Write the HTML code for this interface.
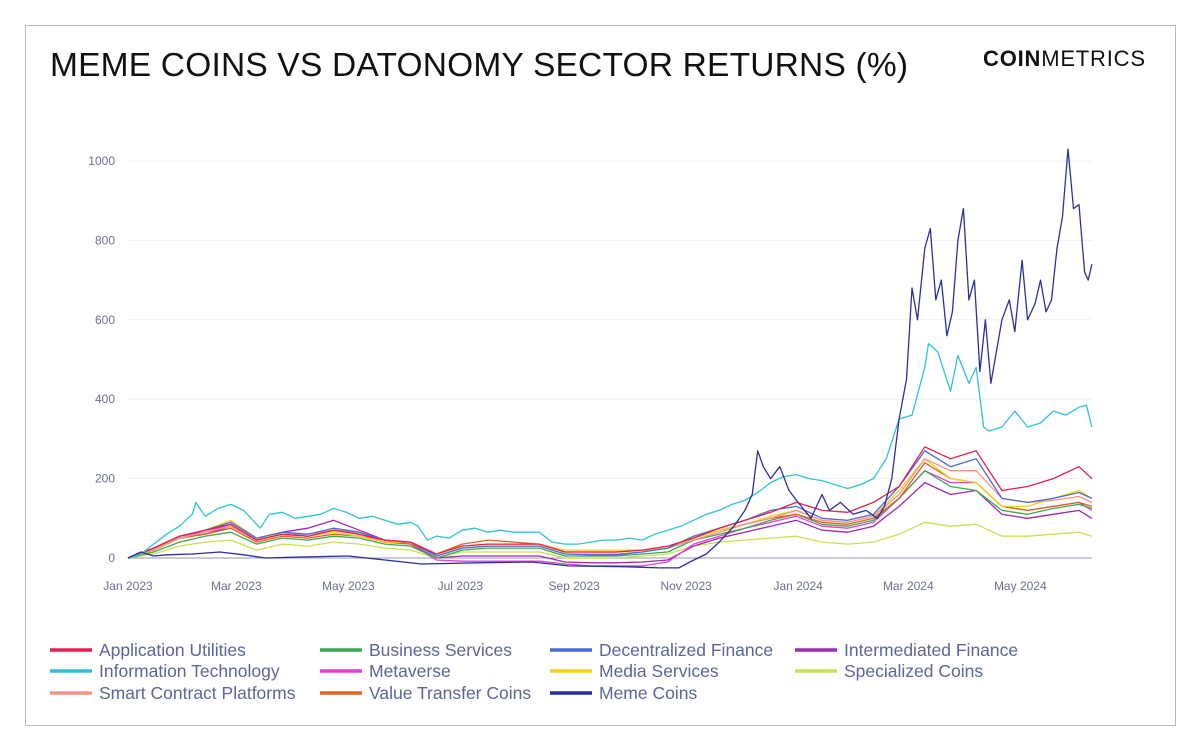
<!DOCTYPE html>
<html><head><meta charset="utf-8">
<style>
body{margin:0;background:#fff;width:1200px;height:750px;overflow:hidden;font-family:"Liberation Sans",sans-serif}
#frame{position:absolute;left:25px;top:25px;width:1149px;height:699px;border:1px solid #b8b8c0}
#title{position:absolute;left:50px;top:47px;font-size:33.5px;color:#111;letter-spacing:0.2px}
#logo{position:absolute;left:983px;top:46px;font-size:22px;color:#111;letter-spacing:0.8px}
svg{position:absolute;left:0;top:0}
</style></head><body>
<div id="frame"></div>
<div id="title">MEME COINS VS DATONOMY SECTOR RETURNS (%)</div>
<div id="logo"><b>COIN</b>METRICS</div>
<svg id="chart" width="1200" height="750"></svg>
<script>
const yTicks=[0,200,400,600,800,1000];
const xTickLabels=["Jan 2023","Mar 2023","May 2023","Jul 2023","Sep 2023","Nov 2023","Jan 2024","Mar 2024","May 2024"];
const xTickDays=[0,59,120,181,243,304,365,425,486];
const gridDays=[0,14,28,42,56,70,84,98,112,126,140,154,168,182,196,210,224,238,252,266,280,294,308,322,336,350,364,378,392,406,420,434,448,462,476,490,504,518,525];
const appUtil=[0,25,55,70,85,45,60,55,70,60,45,40,10,30,35,35,35,15,15,15,20,30,50,75,95,115,140,120,115,140,180,280,250,270,170,180,200,230,200];
const business=[0,15,40,55,65,35,50,45,55,50,35,30,0,20,25,25,25,5,5,5,10,15,45,60,75,95,110,85,80,95,150,220,180,170,120,110,125,135,125];
const defi=[0,25,55,70,90,50,65,60,75,65,45,40,5,25,30,30,30,10,8,8,15,25,55,75,95,120,130,100,95,110,180,270,230,250,150,140,150,165,150];
const intermed=[0,20,50,60,80,45,65,75,95,70,45,35,0,5,5,5,5,-10,-12,-12,-10,-5,30,50,65,80,95,70,65,80,130,190,160,170,110,100,110,120,100];
const metaverse=[0,25,55,65,85,45,60,55,70,60,40,35,-5,-8,-8,-8,-8,-15,-20,-20,-20,-10,35,55,75,90,105,80,75,90,150,220,190,190,130,120,130,140,120];
const media=[0,20,55,70,95,50,60,55,65,55,40,40,10,30,35,35,35,20,20,20,20,25,50,70,85,105,120,95,90,105,170,250,200,190,130,130,150,170,150];
const specialized=[0,10,30,40,45,20,35,30,40,35,25,20,0,15,15,15,15,0,0,0,5,10,30,40,45,50,55,40,35,40,60,90,80,85,55,55,60,65,55];
const smartContract=[0,20,50,65,80,45,60,60,70,65,45,40,5,25,30,30,30,10,10,10,15,25,45,65,85,100,120,95,90,105,160,250,220,220,150,140,145,155,140];
const valueTransfer=[0,20,50,60,75,40,55,50,60,55,40,35,10,35,45,40,35,15,15,15,20,25,50,70,85,100,110,90,85,100,150,240,200,190,130,120,130,140,130];
const itDays=[0,7,14,21,28,35,37,42,49,56,63,72,77,84,91,98,105,112,119,126,133,140,147,154,158,163,168,175,182,189,196,203,210,217,224,231,238,245,252,259,266,273,280,287,294,301,308,315,322,329,336,343,350,357,364,371,378,385,392,399,406,413,420,427,434,436,441,448,452,458,462,466,469,476,483,490,497,504,511,518,522,525];
const itVals=[0,10,35,60,80,110,140,105,125,135,120,75,110,115,100,105,110,125,115,100,105,95,85,90,80,45,55,50,70,75,65,70,65,65,65,40,35,35,40,45,45,50,45,60,70,80,95,110,120,135,145,165,190,205,210,200,195,185,175,185,200,250,350,360,480,540,520,420,510,440,480,330,320,330,370,330,340,370,360,380,385,330];
const memeDays=[0,7,14,21,35,50,63,75,90,120,140,160,190,220,240,270,290,300,306,315,322,330,336,340,343,346,350,355,360,365,372,378,382,388,395,402,408,412,416,420,424,427,430,434,437,440,443,446,449,452,455,458,461,464,467,470,473,476,480,483,487,490,494,497,500,503,506,509,512,515,518,521,523,525];
const memeVals=[0,15,5,8,10,15,8,0,2,5,-5,-15,-12,-10,-20,-22,-25,-25,-10,10,40,80,120,160,270,230,200,230,170,140,100,160,120,140,110,120,100,130,200,350,450,680,600,780,830,650,700,560,620,800,880,650,700,470,600,440,520,600,650,570,750,600,640,700,620,650,780,860,1030,880,890,720,700,740];
const seriesNames=["Application Utilities","Business Services","Decentralized Finance","Intermediated Finance","Information Technology","Metaverse","Media Services","Specialized Coins","Smart Contract Platforms","Value Transfer Coins","Meme Coins"];
const colors=["#e3204f","#3fa852","#4a6bd8","#9c2bb0","#2ec4d4","#e43fd8","#f2d21a","#c6e24e","#f49488","#e0621f","#2f2f9c"];
const NS="http://www.w3.org/2000/svg";
const svg=document.getElementById('chart');
const x0=128,pxPerDay=1.836,y0=558,pxPerUnit=0.397;
const xs=d=>x0+d*pxPerDay, ys=v=>y0-v*pxPerUnit;
function el(t,a){const e=document.createElementNS(NS,t);for(const k in a)e.setAttribute(k,a[k]);svg.appendChild(e);return e;}
yTicks.forEach(v=>{
 if(v>0){const g=el('line',{x1:x0,x2:1092,y1:ys(v),y2:ys(v),stroke:'#f0f0f3'});
 
 }
 const t=el('text',{x:115,y:ys(v)+4,'text-anchor':'end','font-size':12,fill:'#6a7090'});t.textContent=v;
 
 
});
xTickLabels.forEach((l,i)=>{
 const t=el('text',{x:xs(xTickDays[i]),y:590,'text-anchor':'middle','font-size':12,fill:'#6a7090'});t.textContent=l;
 
 
});
const ax=el('line',{x1:x0,x2:1092,y1:y0,y2:y0,stroke:'#a8acc0','stroke-width':1.2});


const all=[[gridDays,appUtil],[gridDays,business],[gridDays,defi],[gridDays,intermed],[itDays,itVals],[gridDays,metaverse],[gridDays,media],[gridDays,specialized],[gridDays,smartContract],[gridDays,valueTransfer],[memeDays,memeVals]];
const order=[7,3,5,1,9,6,8,2,0,4,10];
order.forEach(i=>{
 const [d,v]=all[i];
 const p=el('polyline',{points:d.map((dd,j)=>xs(dd).toFixed(1)+','+ys(v[j]).toFixed(1)).join(' '),fill:'none',stroke:colors[i],'stroke-width':1.3,'stroke-linejoin':'round'});
 
 
});
const colX=[50,320,550,795],rowY=[650,671,693];
seriesNames.forEach((n,i)=>{
 const c=i%4,r=Math.floor(i/4);
 const l=el('line',{x1:colX[c],x2:colX[c]+42,y1:rowY[r],y2:rowY[r],stroke:colors[i],'stroke-width':3.5});
 
 
 const t=el('text',{x:colX[c]+49,y:rowY[r]+6,'font-size':17.5,fill:'#5b6796'});t.textContent=n;
 
 
});
</script>
</body></html>
